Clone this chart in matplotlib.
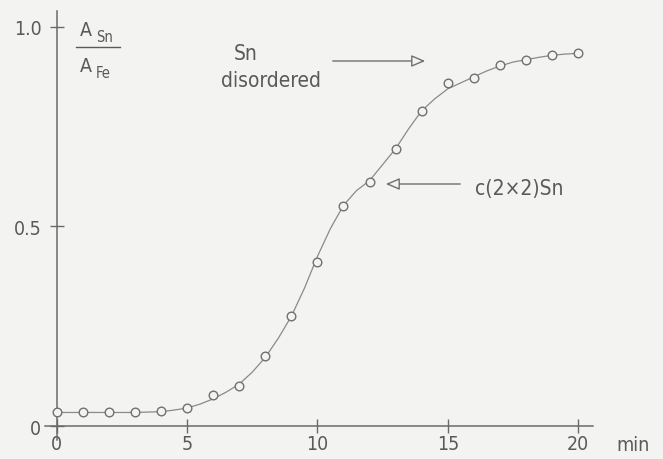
import numpy as np
import matplotlib
matplotlib.use('Agg')
import matplotlib.pyplot as plt
from matplotlib import font_manager
from matplotlib.patches import FancyArrowPatch

# narrow face if there is one, otherwise the condensed DejaVu cut
installed = {f.name for f in font_manager.fontManager.ttflist}
if 'Liberation Sans Narrow' in installed:
    plt.rcParams['font.family'] = ['Liberation Sans Narrow', 'DejaVu Sans']
else:
    plt.rcParams['font.family'] = ['DejaVu Sans']
    plt.rcParams['font.stretch'] = 'condensed'

# measured intensity ratio vs deposition time
t_min = [0, 1, 2, 3, 4, 5, 6, 7, 8, 9, 10, 11, 12, 13, 14, 15, 16, 17, 18, 19, 20]
ratio = [0.034, 0.034, 0.034, 0.034, 0.037, 0.044, 0.078, 0.100, 0.175, 0.276, 0.410,
         0.552, 0.611, 0.694, 0.790, 0.860, 0.871, 0.905, 0.917, 0.930, 0.934]

# hand-drawn guide curve through the points
curve_t = [0, 1, 2, 3, 4, 4.5, 5, 5.5, 6, 6.5, 7, 7.5, 8, 8.5, 9, 9.5, 10, 10.5, 11, 11.5,
           12, 12.5, 13, 13.5, 14, 14.5, 15, 15.5, 16, 16.5, 17, 17.5, 18, 18.5, 19, 19.5, 20]
curve_r = [0.034, 0.034, 0.034, 0.034, 0.036, 0.040, 0.045, 0.055, 0.068, 0.085, 0.105, 0.135,
           0.172, 0.220, 0.275, 0.345, 0.425, 0.495, 0.553, 0.590, 0.615, 0.655, 0.695, 0.745,
           0.790, 0.820, 0.845, 0.860, 0.875, 0.890, 0.902, 0.912, 0.918, 0.924, 0.929, 0.932, 0.934]

x_ticks = [0, 5, 10, 15, 20]
y_ticks = [0, 0.5, 1.0]
y_labels = ['0', '0.5', '1.0']

bg = '#f3f3f1'
ink = '#6a6a6a'
tc = '#5a5a5a'

W, H = 663, 460
fig = plt.figure(figsize=(W / 100, H / 100), dpi=100, facecolor=bg)
ax = fig.add_axes([45 / W, 1 - 441 / H, (593 - 45) / W, (441 - 12) / H], facecolor=bg)


def px(x, y):
    return x / W, 1 - y / H


ax.plot(curve_t, curve_r, color='#8a8a8a', lw=0.9, zorder=2)
ax.plot(t_min, ratio, 'o', ms=6.2, mfc=bg, mec='#707070', mew=1.0, zorder=3)

ax.set_xlim(-0.449, 20.57)
ax.set_ylim(-0.035, 1.04)

for s in ['top', 'right']:
    ax.spines[s].set_visible(False)
ax.spines['left'].set_position(('data', 0))
ax.spines['bottom'].set_position(('data', 0))
for s in ['left', 'bottom']:
    ax.spines[s].set_color(ink)
    ax.spines[s].set_linewidth(1.1)

ax.set_xticks(x_ticks)
ax.set_yticks(y_ticks)
ax.set_yticklabels(y_labels)
ax.tick_params(direction='inout', length=10, width=1.0, color=ink,
               labelcolor=tc, labelsize=14)
ax.tick_params(axis='y', pad=6)
ax.tick_params(axis='x', pad=1)

fig.text(*px(616, 446), 'min', fontsize=14, color=tc, va='center', ha='left')

# A_Sn / A_Fe fraction label
fig.text(*px(80, 30), 'A', fontsize=14, color=tc, va='center', ha='left')
fig.text(*px(96, 38), 'Sn', fontsize=10.5, color=tc, va='center', ha='left')
fig.add_artist(plt.Line2D([76 / W, 120 / W], [1 - 47.7 / H, 1 - 47.7 / H],
                          color=tc, lw=1.0))
fig.text(*px(80, 66), 'A', fontsize=14, color=tc, va='center', ha='left')
fig.text(*px(96, 73), 'Fe', fontsize=10.5, color=tc, va='center', ha='left')

fig.text(*px(246, 54), 'Sn', fontsize=15, color=tc, va='center', ha='center')
fig.text(*px(271, 81), 'disordered', fontsize=15, color=tc, va='center', ha='center')
fig.text(*px(475, 189), 'c(2×2)Sn', fontsize=15, color=tc, va='center', ha='left')

arrow_style = '-|>,head_length=0.7,head_width=0.3'
for (x0, y0), (x1, y1) in [((330, 62), (428, 62)), ((463, 185), (383, 185))]:
    fig.add_artist(FancyArrowPatch(px(x0, y0), px(x1, y1), transform=fig.transFigure,
                                   arrowstyle=arrow_style, mutation_scale=12,
                                   fc=bg, ec='#6f6f6f', lw=1.0))

fig.savefig('out.png', dpi=100, facecolor=bg)
